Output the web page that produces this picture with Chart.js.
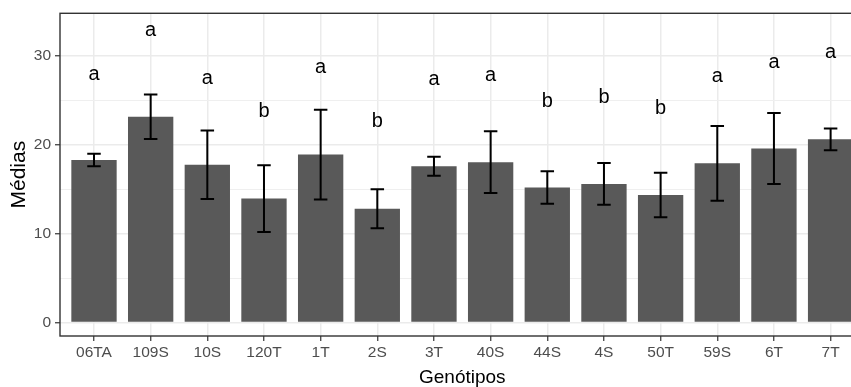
<!DOCTYPE html>
<html>
<head>
<meta charset="utf-8">
<script src="https://cdn.jsdelivr.net/npm/chart.js@4/dist/chart.umd.min.js"></script>
<style>
  html,body{ margin:0; padding:0; background:#fff; overflow:hidden; }
  #wrap{ width:851px; height:387px; }
</style>
</head>
<body>
<div id="wrap"><canvas id="chart" width="851" height="387"></canvas></div>
<script>
const genotipos = ["06TA","109S","10S","120T","1T","2S","3T","40S","44S","4S","50T","59S","6T","7T"];
const medias = [18.3, 23.15, 17.75, 13.95, 18.9, 12.8, 17.6, 18.05, 15.2, 15.6, 14.35, 17.92, 19.58, 20.62];
const desvio = [0.7, 2.5, 3.85, 3.75, 5.05, 2.2, 1.07, 3.48, 1.82, 2.35, 2.5, 4.21, 3.99, 1.22];
const letras = ["a","a","a","b","a","b","a","a","b","b","b","a","a","a"];
const letraY = [27.3, 32.3, 26.8, 23.1, 28.1, 22.0, 26.7, 27.2, 24.3, 24.7, 23.5, 27.1, 28.7, 29.8];
const yTicks = [0, 5, 10, 15, 20, 25, 30];

const FONT = '"Liberation Sans", Arial, sans-serif';

// error bars, group letters, panel border and axis titles
const extras = {
  id: "extras",
  afterDatasetsDraw(chart){
    const {ctx, scales:{x, y}} = chart;
    ctx.save();
    ctx.strokeStyle = "#000";
    ctx.lineWidth = 2;
    medias.forEach((m, i) => {
      const px = x.getPixelForValue(i);
      const top = y.getPixelForValue(m + desvio[i]);
      const bot = y.getPixelForValue(m - desvio[i]);
      const cap = 6.75;
      ctx.beginPath();
      ctx.moveTo(px, top); ctx.lineTo(px, bot);
      ctx.moveTo(px - cap, top); ctx.lineTo(px + cap, top);
      ctx.moveTo(px - cap, bot); ctx.lineTo(px + cap, bot);
      ctx.stroke();
    });
    ctx.fillStyle = "#000";
    ctx.font = "20px " + FONT;
    ctx.textAlign = "center";
    ctx.textBaseline = "alphabetic";
    letras.forEach((l, i) => {
      ctx.fillText(l, x.getPixelForValue(i), y.getPixelForValue(letraY[i]));
    });
    ctx.restore();
  },
  afterDraw(chart){
    const {ctx, chartArea:a, scales:{x}} = chart;
    ctx.save();
    ctx.strokeStyle = "#333";
    ctx.lineWidth = 1.4;
    ctx.strokeRect(a.left, a.top, x.getPixelForValue(13.6) - a.left, a.bottom - a.top);
    ctx.fillStyle = "#000";
    ctx.textAlign = "center";
    ctx.textBaseline = "alphabetic";
    ctx.font = "19px " + FONT;
    ctx.fillText("Genótipos", x.getPixelForValue(6.5), 382.5);
    ctx.translate(25, (a.top + a.bottom) / 2);
    ctx.rotate(-Math.PI / 2);
    ctx.font = "21px " + FONT;
    ctx.fillText("Médias", 0, 0);
    ctx.restore();
  }
};

new Chart(document.getElementById("chart"), {
  type: "bar",
  data: {
    datasets: [{
      data: medias.map((v, i) => ({ x: i, y: v })),
      backgroundColor: "#595959",
      borderWidth: 0,
      barPercentage: 0.8,
      categoryPercentage: 1
    }]
  },
  options: {
    responsive: false,
    animation: false,
    layout: { padding: { top: 13, right: 0, bottom: 0, left: 0 } },
    plugins: { legend: { display: false }, tooltip: { enabled: false } },
    scales: {
      x: {
        type: "linear",
        offset: false,
        min: -0.6,
        max: 13.36,
        afterBuildTicks(s){ s.ticks = genotipos.map((g, i) => ({ value: i })); },
        afterFit(s){ s.height = 51; s.paddingLeft = 0; s.paddingRight = 0; },
        ticks: {
          autoSkip: false, maxRotation: 0, padding: 2,
          color: "#4d4d4d", font: { family: FONT, size: 15.5 },
          callback: v => genotipos[v]
        },
        grid: { offset: false, color: "#ebebeb", lineWidth: 1.5, tickLength: 5, tickColor: "#333", tickWidth: 1.2 },
        border: { display: false }
      },
      y: {
        type: "linear",
        min: -1.51,
        max: 34.8,
        afterBuildTicks(s){ s.ticks = yTicks.map(v => ({ value: v })); },
        afterFit(s){ s.width = 60; },
        ticks: {
          padding: 4,
          color: "#4d4d4d", font: { family: FONT, size: 15.5 },
          callback: v => (v % 10 === 0 ? v : "")
        },
        grid: {
          color: c => (c.tick && c.tick.value % 10 === 0 ? "#ebebeb" : "#efefef"),
          lineWidth: c => (c.tick && c.tick.value % 10 === 0 ? 1.5 : 1),
          tickLength: 5,
          tickColor: c => (c.tick && c.tick.value % 10 === 0 ? "#333" : "rgba(0,0,0,0)"),
          tickWidth: 1.2
        },
        border: { display: false }
      }
    }
  },
  plugins: [extras]
});
</script>
</body>
</html>
